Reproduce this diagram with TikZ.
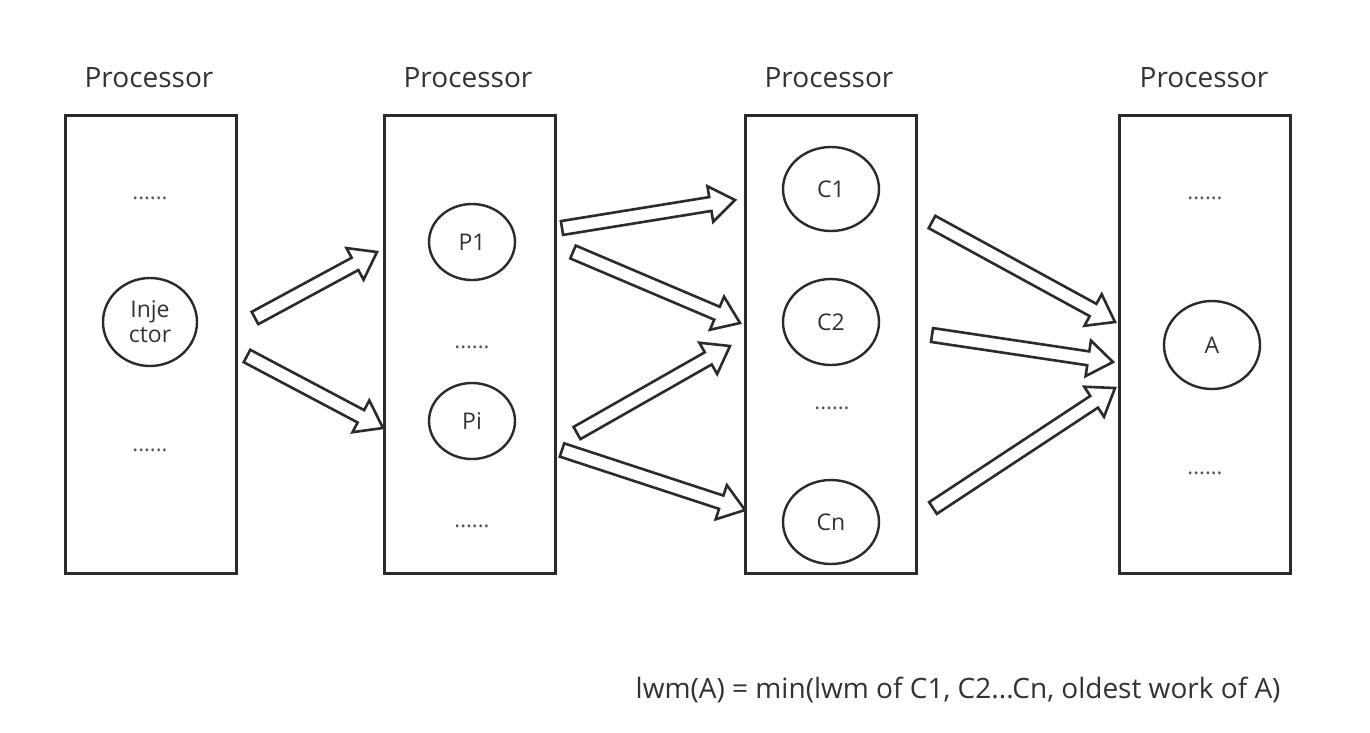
\documentclass[tikz,border=0pt]{standalone}
\usepackage{fontspec}
\setmainfont{Open Sans}
\usetikzlibrary{calc,shapes.geometric}
\definecolor{ink}{HTML}{2B2B2B}
\definecolor{txt}{HTML}{333333}
\definecolor{dotc}{HTML}{555555}
\newcommand{\blockarr}[2]{%
  \path let \p1=(#1), \p2=(#2) in \pgfextra{%
    \pgfmathsetmacro\bang{atan2(\y2-\y1,\x2-\x1)}%
    \pgfmathsetmacro\blen{veclen(\x2-\x1,\y2-\y1)}%
    \xdef\Bang{\bang}\xdef\Blen{\blen}};
  \begin{scope}[shift={(#1)}, rotate=\Bang]
    \draw[barrow] (0pt,-7pt) -- (\Blen pt-25pt,-7pt) -- (\Blen pt-25pt,-18pt)
      -- (\Blen pt,0pt) -- (\Blen pt-25pt,18pt) -- (\Blen pt-25pt,7pt) -- (0pt,7pt) -- cycle;
  \end{scope}}
\begin{document}
\begin{tikzpicture}[x=1pt,y=-1pt,
  proc/.style={draw=ink, line width=3pt, minimum width=171pt, minimum height=458pt, inner sep=0pt},
  plabel/.style={font=\fontsize{28}{32}\selectfont, text=txt},
  ball/.style={draw=ink, line width=2.4pt, ellipse, minimum width=96pt, minimum height=84pt, inner sep=0pt, font=\fontsize{23}{26}\selectfont, text=txt, align=center},
  dots/.style={font=\fontsize{22}{24}\selectfont, text=dotc, inner sep=0pt},
  barrow/.style={draw=ink, line width=2.6pt, fill=white, line join=miter}]
\path[use as bounding box, fill=white] (0,0) rectangle (1370,732);
% processors
\node[proc] (b1) at (150.5,344) {};
\node[proc] (b2) at (469.5,344) {};
\node[proc] (b3) at (831,344) {};
\node[proc] (b4) at (1205,344) {};
\node[plabel] (l1) at (149,78) {Processor};
\node[plabel] (l2) at (468,78) {Processor};
\node[plabel] (l3) at (829,78) {Processor};
\node[plabel] (l4) at (1204,78) {Processor};
% circles
\node[ball, minimum width=94pt, minimum height=88pt, font=\fontsize{23}{25}\selectfont] (inj) at (150,322) {Inje\\ctor};
\node[ball, minimum width=86pt, minimum height=76pt] (p1) at (472,242) {P1};
\node[ball, minimum width=86pt, minimum height=76pt] (pi) at (472,421) {Pi};
\node[ball] (c1) at (831,189) {C1};
\node[ball, minimum height=86pt] (c2) at (831,322) {C2};
\node[ball] (cn) at (831,522) {Cn};
\node[ball, minimum height=88pt] (a) at (1212,345) {A};
% dots
\node[dots] (d1) at (150,198) {......};
\node[dots] (d2) at (150,450) {......};
\node[dots] (d3) at (472,347) {......};
\node[dots] (d4) at (472,526) {......};
\node[dots] (d5) at (832,408) {......};
\node[dots] (d6) at (1205,198) {......};
\node[dots] (d7) at (1205,473) {......};
% arrow endpoints
\coordinate (s1) at (255,318); \coordinate (e1) at (377,252);
\coordinate (s2) at (247,356); \coordinate (e2) at (383,428);
\coordinate (s3) at (562,228); \coordinate (e3) at (735,200);
\coordinate (s4) at (573,252); \coordinate (e4) at (740,323);
\coordinate (s5) at (577,433); \coordinate (e5) at (730,346);
\coordinate (s6) at (562,450); \coordinate (e6) at (745,510);
\coordinate (s7) at (932,222); \coordinate (e7) at (1115,322);
\coordinate (s8) at (932,335); \coordinate (e8) at (1113,362);
\coordinate (s9) at (933,508); \coordinate (e9) at (1115,388);
\blockarr{s1}{e1}
\blockarr{s2}{e2}
\blockarr{s3}{e3}
\blockarr{s4}{e4}
\blockarr{s5}{e5}
\blockarr{s6}{e6}
\blockarr{s7}{e7}
\blockarr{s8}{e8}
\blockarr{s9}{e9}
% formula
\node[font=\fontsize{28}{32}\selectfont, text=txt, anchor=east] (f) at (1284,690) {lwm(A) = min(lwm of C1, C2...Cn, oldest work of A)};
\end{tikzpicture}
\end{document}
